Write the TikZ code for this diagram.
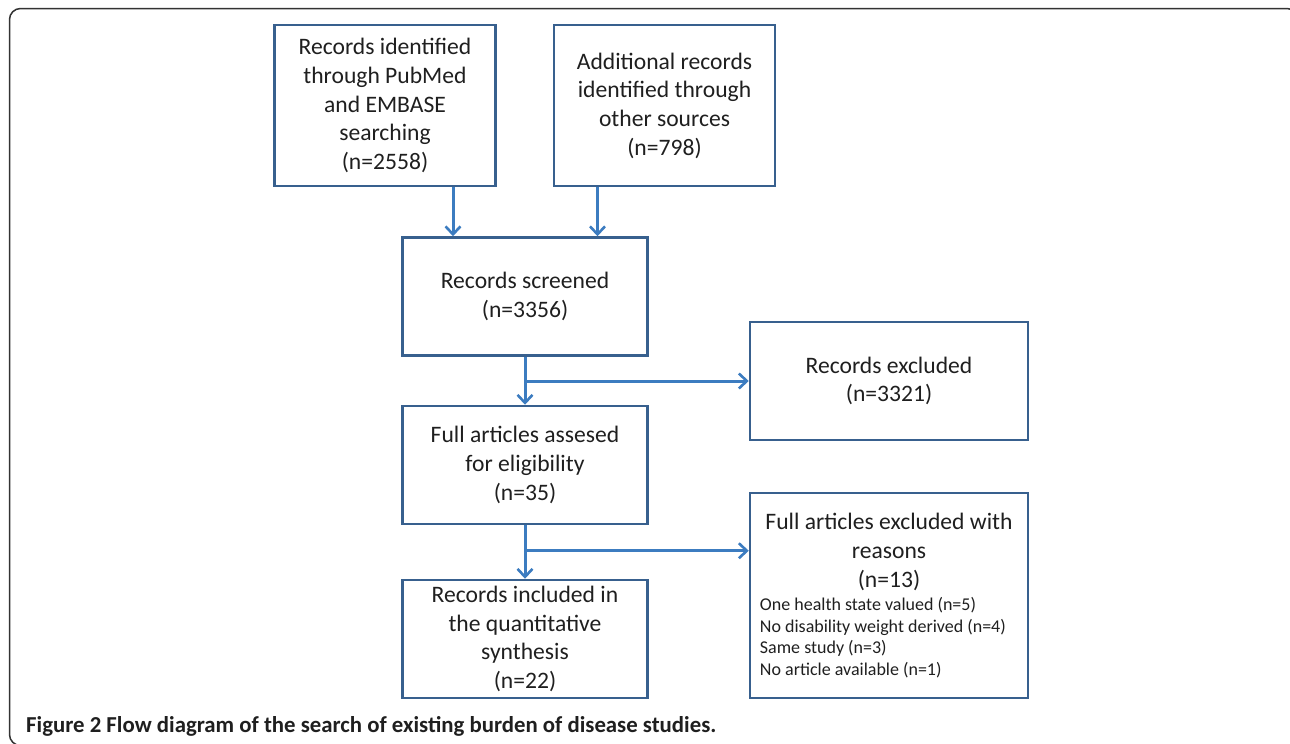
\documentclass[tikz,border=0pt]{standalone}
\usepackage{fontspec}
\setmainfont{Carlito}
\usetikzlibrary{positioning,arrows.meta,calc}
\definecolor{boxblue}{RGB}{56,96,142}
\definecolor{arrblue}{RGB}{60,124,192}
\tikzset{
  stagebox/.style={draw=boxblue, line width=2.5pt, minimum width=245pt, minimum height=118pt,
    align=center, inner sep=0pt, font=\fontsize{23.6}{28.7}\selectfont, text=black!88},
  flowarr/.style={draw=arrblue, line width=3pt, -{Straight Barb[length=8pt,width=15pt,line width=2.6pt]}},
  flowline/.style={draw=arrblue, line width=3pt}
}
\begin{document}
\begin{tikzpicture}[x=1pt,y=-1pt]
  \useasboundingbox (0,0) rectangle (1290,744);
  \draw [black!80, line width=1.5pt, rounded corners=11pt] (9.5,8.5) rectangle (1298,745.5);

  % identification
  \node [stagebox, minimum width=221pt, minimum height=161pt] (pubmed) at (385,105.5)
    {Records identified\\through PubMed\\and EMBASE\\searching\\(n=2558)};
  \node [stagebox, minimum width=221pt, minimum height=161pt] (other) at (664.5,105.5)
    {Additional records\\identified through\\other sources\\(n=798)};

  % screening
  \node [stagebox] (screened) at (525,296.5) {Records screened\\(n=3356)};
  \node [stagebox, minimum width=278pt] (excluded) at (889,381) {Records excluded\\(n=3321)};

  % eligibility
  \node [stagebox] (assessed) at (525,465) {Full articles assesed\\for eligibility\\(n=35)};
  \node [stagebox, minimum width=278pt, minimum height=205pt] (reasons) at (889,595.5) {};
  \node [align=center, inner sep=0pt, text=black!88,
    font=\fontsize{23.6}{28.7}\selectfont] (reasonshead) at ([yshift=-60]reasons.north)
    {Full articles excluded with\\reasons\\(n=13)};
  \node [align=left, anchor=west, inner sep=0pt, text=black!88,
    font=\fontsize{18}{21.6}\selectfont] (reasonslist) at ([xshift=11,yshift=-146]reasons.north west)
    {One health state valued (n=5)\\No disability weight derived (n=4)\\Same study (n=3)\\No article available (n=1)};

  % included
  \node [stagebox] (included) at (525,639) {Records included in\\the quantitative\\synthesis\\(n=22)};

  % connectors
  \draw [flowarr] ([xshift=68]pubmed.south) -- ([xshift=68]pubmed.south |- screened.north);
  \draw [flowarr] ([xshift=-67]other.south) -- ([xshift=-67]other.south |- screened.north);
  \draw [flowarr] (screened.south) -- (assessed.north);
  \draw [flowarr] (screened.south |- excluded.west) -- (excluded.west);
  \coordinate (reasonsin) at ([yshift=-59]reasons.north west);
  \draw [flowarr] (assessed.south) -- (included.north);
  \draw [flowarr] (assessed.south |- reasonsin) -- (reasonsin);

  \node [anchor=base west, inner sep=0pt, font=\fontsize{22.8}{26}\selectfont\bfseries, text=black!88] (caption) at (26,732)
    {Figure 2 Flow diagram of the search of existing burden of disease studies.};
\end{tikzpicture}
\end{document}
